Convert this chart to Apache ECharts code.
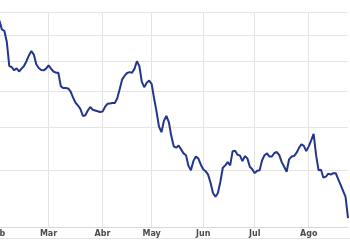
<!DOCTYPE html>
<html>
<head>
<meta charset="utf-8">
<script src="https://cdn.jsdelivr.net/npm/echarts@6/dist/echarts.min.js"></script>
<style>html,body{margin:0;padding:0;background:#fff}#c{width:350px;height:244px}</style>
</head>
<body>
<div id="c"></div>
<script>
const months = ['Feb','Mar','Abr','May','Jun','Jul','Ago'];
const daysPerMonth = [21,22,20,21,21,22,17];
const gridValues = [40,50,60,70,80,90];
const prices = [
86.8,86.0,82.3,81.7,77.2,68.3,67.9,66.8,67.5,66.4,67.4,68.3,70.0,72.1,73.7,72.4,68.9,67.6,66.9,66.8,67.4,
68.5,67.4,66.4,66.0,66.0,61.6,61.0,61.0,60.9,59.9,58.1,56.6,55.8,54.8,52.9,53.1,54.4,55.4,54.6,54.4,54.2,54.0,
54.1,55.4,56.3,56.4,56.5,56.5,57.9,60.7,63.8,65.0,65.9,66.2,66.0,67.3,70.0,68.2,63.0,61.3,62.7,
63.4,62.3,57.9,54.1,50.1,48.7,51.6,52.9,51.3,47.8,45.3,45.0,45.5,44.6,43.7,43.3,41.0,40.1,42.0,43.0,
42.6,41.3,40.3,39.9,39.2,37.6,35.7,35.0,35.7,37.8,40.6,41.1,41.8,41.1,44.2,44.3,43.4,43.2,42.0,
43.1,42.6,40.8,40.3,39.5,40.0,40.1,42.2,43.3,43.7,43.0,43.0,43.8,44.0,43.3,41.8,40.8,39.8,42.4,43.0,43.1,43.8,44.9,
45.8,45.4,44.2,45.3,46.7,48.3,43.3,40.1,40.2,38.6,38.8,39.4,39.2,39.5,39.5,38.3,37.2,36.1,35.0,31.4
];
const categories = [];
months.forEach((m, k) => { for (let d = 1; d <= daysPerMonth[k]; d++) categories.push(m + '-' + d); });
const isMonthStart = (i, v) => String(v).endsWith('-1');

const chart = echarts.init(document.getElementById('c'), null, {renderer: 'canvas'});
chart.setOption({
  animation: false,
  grid: {left: -3, right: 2, top: 12, bottom: 17, containLabel: false, outerBoundsMode: 'none'},
  xAxis: {
    type: 'category', data: categories, boundaryGap: false,
    axisLine: {lineStyle: {color: '#d8d8d8', width: 1}},
    axisTick: {show: false},
    axisLabel: {interval: isMonthStart, formatter: v => v.split('-')[0],
      fontFamily: 'DejaVu Sans', fontSize: 8, fontWeight: 'bold', color: '#4a4a4a', margin: 3},
    splitLine: {show: true, interval: isMonthStart, lineStyle: {color: '#e4e4e4', width: 1}}
  },
  yAxis: {
    type: 'log', min: 30, max: 90, logBase: 10,
    axisLine: {show: false}, axisTick: {show: false, customValues: gridValues},
    axisLabel: {show: false, customValues: gridValues},
    splitLine: {show: true, lineStyle: {color: '#e4e4e4', width: 1}}
  },
  graphic: [{type: 'line', shape: {x1: 0, y1: 238.5, x2: 350, y2: 238.5}, style: {stroke: '#e4e4e4', lineWidth: 1}}],
  series: [{type: 'line', data: prices, symbol: 'none', smooth: false,
    lineStyle: {color: '#22368c', width: 2}}]
});
</script>
</body>
</html>
